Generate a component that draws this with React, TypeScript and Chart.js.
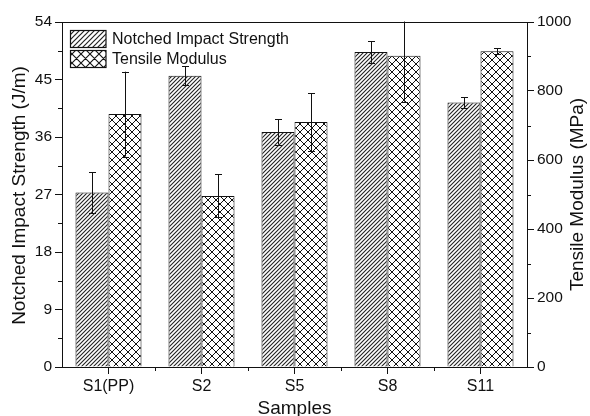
import React, { useEffect, useRef } from 'react';
import { Chart, registerables } from 'chart.js';

Chart.register(...registerables);

const categories = ['S1(PP)', 'S2', 'S5', 'S8', 'S11'];
const impactStrength = [27.3, 45.6, 36.8, 49.3, 41.4];
const impactError = [3.2, 1.5, 2.0, 1.7, 0.85];
const tensileModulus = [733, 496, 710, 902, 915];
const tensileError = [123, 62, 84, 133, 9];
const leftTicks = [0, 9, 18, 27, 36, 45, 54];
const rightTicks = [0, 200, 400, 600, 800, 1000];
const leftMinor = [4.5, 13.5, 22.5, 31.5, 40.5, 49.5];
const rightMinor = [100, 300, 500, 700, 900];
const seriesNames = ['Notched Impact Strength', 'Tensile Modulus'];
const leftTitle = 'Notched Impact Strength (J/m)';
const rightTitle = 'Tensile Modulus (MPa)';
const bottomTitle = 'Samples';

const FONT = "'Liberation Sans', Arial, sans-serif";
const INK = '#111';

function makePattern(ctx: CanvasRenderingContext2D, size: number, cross: boolean, color: string, lw: number) {
  const c = document.createElement('canvas');
  c.width = size;
  c.height = size;
  const g = c.getContext('2d')!;
  g.fillStyle = '#fff';
  g.fillRect(0, 0, size, size);
  g.strokeStyle = color;
  g.lineWidth = lw;
  g.beginPath();
  g.moveTo(-1, size + 1); g.lineTo(size + 1, -1);
  g.moveTo(-1, 1); g.lineTo(1, -1);
  g.moveTo(size - 1, size + 1); g.lineTo(size + 1, size - 1);
  if (cross) {
    g.moveTo(-1, -1); g.lineTo(size + 1, size + 1);
    g.moveTo(-1, size - 1); g.lineTo(1, size + 1);
    g.moveTo(size - 1, -1); g.lineTo(size + 1, 1);
  }
  g.stroke();
  return ctx.createPattern(c, 'repeat') as CanvasPattern;
}

export default function App() {
  const ref = useRef<HTMLCanvasElement | null>(null);

  useEffect(() => {
    const canvas = ref.current!;
    const ctx0 = canvas.getContext('2d')!;
    const diag = makePattern(ctx0, 4, false, '#222', 1.1);
    const cross = makePattern(ctx0, 8, true, '#111', 1.0);
    const diagL = makePattern(ctx0, 5, false, '#222', 1.2);
    const crossL = makePattern(ctx0, 9, true, '#111', 1.1);

    const decor = {
      id: 'decor',
      afterDatasetsDraw(chart: any) {
        const ctx = chart.ctx as CanvasRenderingContext2D;
        const a = chart.chartArea;
        ctx.save();
        ctx.beginPath();
        ctx.rect(a.left, a.top - 0.5, a.right - a.left, a.bottom - a.top + 1);
        ctx.clip();
        ctx.strokeStyle = INK;
        ctx.lineWidth = 1;
        chart.data.datasets.forEach((ds: any, di: number) => {
          const meta = chart.getDatasetMeta(di);
          const sc = chart.scales[ds.yAxisID];
          meta.data.forEach((bar: any, i: number) => {
            const v = ds.data[i];
            const e = ds.errors[i];
            const yT = sc.getPixelForValue(v + e);
            const yB = sc.getPixelForValue(v - e);
            const x = Math.round(bar.x) + 0.5;
            ctx.beginPath();
            ctx.moveTo(x, yT); ctx.lineTo(x, yB);
            ctx.moveTo(x - 3.5, Math.round(yT) + 0.5); ctx.lineTo(x + 3.5, Math.round(yT) + 0.5);
            ctx.moveTo(x - 3.5, Math.round(yB) + 0.5); ctx.lineTo(x + 3.5, Math.round(yB) + 0.5);
            ctx.stroke();
          });
        });
        ctx.restore();
      },
      afterDraw(chart: any) {
        const ctx = chart.ctx as CanvasRenderingContext2D;
        const a = chart.chartArea;
        const ys = chart.scales.y;
        const y1s = chart.scales.y1;
        const xs = chart.scales.x;
        ctx.save();
        ctx.strokeStyle = INK;
        ctx.lineWidth = 1;
        // top frame
        ctx.beginPath();
        ctx.moveTo(a.left, Math.round(a.top) + 0.5);
        ctx.lineTo(a.right, Math.round(a.top) + 0.5);
        ctx.stroke();
        // minor ticks
        ctx.beginPath();
        leftMinor.forEach((v) => {
          const y = Math.round(ys.getPixelForValue(v)) + 0.5;
          ctx.moveTo(a.left - 4, y); ctx.lineTo(a.left, y);
        });
        rightMinor.forEach((v) => {
          const y = Math.round(y1s.getPixelForValue(v)) + 0.5;
          ctx.moveTo(a.right, y); ctx.lineTo(a.right + 4, y);
        });
        for (let i = 1; i < categories.length; i++) {
          const x = Math.round((xs.getPixelForValue(i - 1) + xs.getPixelForValue(i)) / 2) + 0.5;
          ctx.moveTo(x, a.bottom); ctx.lineTo(x, a.bottom + 4);
        }
        ctx.stroke();

        // legend
        const pats = [diagL, crossL];
        const boxTop = [30, 50];
        ctx.font = `16px ${FONT}`;
        ctx.textBaseline = 'alphabetic';
        ctx.textAlign = 'left';
        seriesNames.forEach((name, i) => {
          ctx.fillStyle = pats[i];
          ctx.fillRect(70, boxTop[i], 36, 17.5);
          ctx.strokeStyle = INK;
          ctx.lineWidth = 1.2;
          ctx.strokeRect(70.5, boxTop[i] + 0.5, 35.5, 17);
          ctx.fillStyle = INK;
          ctx.fillText(name, 112, boxTop[i] + 14.3);
        });

        // axis titles
        ctx.fillStyle = INK;
        ctx.font = `19px ${FONT}`;
        ctx.textAlign = 'center';
        ctx.textBaseline = 'middle';
        const cy = (a.top + a.bottom) / 2;
        ctx.save();
        ctx.translate(20, cy + 1);
        ctx.rotate(-Math.PI / 2);
        ctx.fillText(leftTitle, 0, 0);
        ctx.restore();
        ctx.save();
        ctx.translate(578, cy);
        ctx.rotate(-Math.PI / 2);
        ctx.fillText(rightTitle, 0, 0);
        ctx.restore();
        ctx.textBaseline = 'alphabetic';
        ctx.fillText(bottomTitle, (a.left + a.right) / 2, 413.5);
        ctx.restore();
      },
    };

    const yTickFont = { family: FONT, size: 15.5 };
    const xTickFont = { family: FONT, size: 16 };
    const chart = new Chart(canvas, {
      type: 'bar',
      data: {
        labels: categories,
        datasets: [
          {
            label: seriesNames[0],
            data: impactStrength,
            errors: impactError,
            yAxisID: 'y',
            backgroundColor: diag,
            borderColor: INK,
            borderWidth: 1,
          } as any,
          {
            label: seriesNames[1],
            data: tensileModulus,
            errors: tensileError,
            yAxisID: 'y1',
            backgroundColor: cross,
            borderColor: INK,
            borderWidth: 1,
          } as any,
        ],
      },
      options: {
        responsive: false,
        animation: false,
        devicePixelRatio: 1,
        categoryPercentage: 0.71,
        barPercentage: 1,
        layout: { padding: { top: 22, left: 0, right: 0, bottom: 0 } },
        plugins: { legend: { display: false }, tooltip: { enabled: false }, title: { display: false } },
        scales: {
          x: {
            offset: true,
            grid: { drawOnChartArea: false, offset: false, tickLength: 7, color: INK, lineWidth: 1 },
            border: { display: true, color: INK, width: 1 },
            ticks: { font: xTickFont, color: INK, padding: 3, maxRotation: 0, autoSkip: false },
            afterFit: (s: any) => { s.height = 49; },
          },
          y: {
            position: 'left',
            min: leftTicks[0],
            max: leftTicks[leftTicks.length - 1],
            afterBuildTicks: (s: any) => { s.ticks = leftTicks.map((v) => ({ value: v })); },
            grid: { drawOnChartArea: false, tickLength: 7, color: INK, lineWidth: 1 },
            border: { display: true, color: INK, width: 1 },
            ticks: { font: yTickFont, color: INK, padding: 3, callback: (v: any) => String(v) },
            afterFit: (s: any) => { s.width = 62; },
          },
          y1: {
            position: 'right',
            min: rightTicks[0],
            max: rightTicks[rightTicks.length - 1],
            afterBuildTicks: (s: any) => { s.ticks = rightTicks.map((v) => ({ value: v })); },
            grid: { drawOnChartArea: false, tickLength: 7, color: INK, lineWidth: 1 },
            border: { display: true, color: INK, width: 1 },
            ticks: { font: yTickFont, color: INK, padding: 3, callback: (v: any) => String(v) },
            afterFit: (s: any) => { s.width = 63; },
          },
        },
      } as any,
      plugins: [decor],
    });
    return () => chart.destroy();
  }, []);

  return (
    <div style={{ position: 'absolute', left: 0, top: 0, width: 590, height: 416, background: '#fff' }}>
      <canvas ref={ref} width={590} height={416} style={{ display: 'block', width: 590, height: 416 }} />
    </div>
  );
}
